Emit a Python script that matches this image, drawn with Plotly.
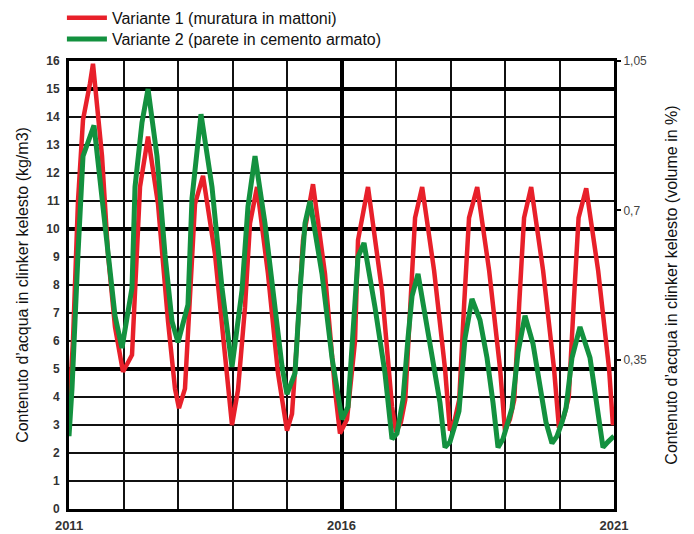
import plotly.graph_objects as go

# ---- data (decimal years, kg/m3) ----
red_x = [2011.000, 2011.073, 2011.165, 2011.257, 2011.385, 2011.440, 2011.606, 2011.716, 2011.844, 2011.991,
         2012.156, 2012.211, 2012.303, 2012.450, 2012.633, 2012.817, 2012.945, 2013.018,
         2013.128, 2013.220, 2013.312, 2013.459, 2013.679, 2013.862, 2013.991,
         2014.101, 2014.229, 2014.321, 2014.450, 2014.651, 2014.835, 2015.000,
         2015.092, 2015.183, 2015.294, 2015.477, 2015.697, 2015.881, 2015.972,
         2016.101, 2016.248, 2016.303, 2016.486, 2016.743, 2016.927, 2017.000,
         2017.090, 2017.170, 2017.260, 2017.350, 2017.480, 2017.700, 2017.900, 2017.990,
         2018.080, 2018.160, 2018.250, 2018.340, 2018.490, 2018.710, 2018.910, 2019.000,
         2019.090, 2019.170, 2019.260, 2019.350, 2019.480, 2019.700, 2019.900, 2019.990,
         2020.080, 2020.170, 2020.260, 2020.350, 2020.490, 2020.710, 2020.910, 2020.980, 2021.000]
red_y = [3.5, 6.0, 11.0, 13.9, 15.2, 15.9, 12.6, 9.1, 6.5, 4.9,
         5.5, 7.9, 11.5, 13.3, 10.9, 6.7, 4.3, 3.6,
         4.3, 7.6, 10.9, 11.9, 9.1, 5.5, 3.0,
         4.25, 7.2, 10.2, 11.5, 8.4, 4.85, 2.8,
         3.4, 6.0, 9.6, 11.6, 8.4, 4.25, 2.7,
         3.2, 6.0, 9.6, 11.5, 7.8, 3.65, 2.75,
         3.1, 3.9, 7.3, 10.4, 11.5, 8.5, 5.0, 2.8,
         3.2, 3.9, 7.3, 10.4, 11.5, 8.5, 5.0, 2.8,
         3.2, 3.9, 7.3, 10.4, 11.5, 8.5, 5.0, 2.9,
         3.3, 4.0, 7.3, 10.4, 11.45, 8.5, 5.0, 3.0, 3.2]

green_x = [2011.000, 2011.055, 2011.165, 2011.257, 2011.459, 2011.661, 2011.844, 2011.972,
           2012.156, 2012.211, 2012.339, 2012.450, 2012.615, 2012.761, 2012.890, 2013.000,
           2013.183, 2013.257, 2013.422, 2013.624, 2013.807, 2013.991,
           2014.046, 2014.174, 2014.284, 2014.413, 2014.596, 2014.780, 2014.908, 2015.000,
           2015.147, 2015.239, 2015.330, 2015.422, 2015.642, 2015.826, 2016.009,
           2016.119, 2016.211, 2016.303, 2016.413, 2016.615, 2016.798, 2016.927,
           2017.018, 2017.128, 2017.220, 2017.294, 2017.404, 2017.679, 2017.807, 2017.899,
           2017.991, 2018.083, 2018.156, 2018.266, 2018.394, 2018.541, 2018.670, 2018.780, 2018.872,
           2018.963, 2019.055, 2019.128, 2019.239, 2019.367, 2019.514, 2019.642, 2019.752, 2019.862,
           2019.954, 2020.046, 2020.119, 2020.229, 2020.376, 2020.560, 2020.688, 2020.798, 2020.890, 2021.000]
green_y = [2.6, 4.3, 9.1, 12.6, 13.7, 10.25, 6.9, 5.75,
           7.9, 11.5, 13.8, 15.0, 12.6, 9.1, 6.7, 5.95,
           7.3, 11.1, 14.1, 11.5, 7.9, 5.07,
           6.0, 7.8, 10.8, 12.6, 10.2, 7.2, 5.1, 4.1,
           4.85, 7.8, 10.2, 11.0, 8.4, 5.4, 3.2,
           3.65, 6.6, 9.0, 9.5, 7.2, 4.85, 2.5,
           2.7, 3.9, 6.1, 7.6, 8.4, 5.4, 3.8, 2.2,
           2.4, 3.0, 3.5, 6.1, 7.5, 6.75, 5.4, 3.8, 2.2,
           2.5, 3.1, 3.6, 5.6, 6.9, 5.9, 4.4, 3.1, 2.35,
           2.6, 3.1, 3.6, 5.4, 6.5, 5.4, 3.8, 2.2, 2.4, 2.6]

year_ticks = list(range(2011, 2022))
year_labels = ["2011", "", "", "", "", "2016", "", "", "", "", "2021"]
left_ticks = list(range(0, 17))
right_ticks = [0.35, 0.7, 1.05]
right_labels = ["0,35", "0,7", "1,05"]
thick_y = [5, 10, 15]
thick_x = [2016]

RED = "#e8202a"
GREEN = "#13913f"
FONT = "Liberation Sans, Arial, sans-serif"

fig = go.Figure()
fig.add_trace(go.Scatter(x=red_x, y=red_y, mode="lines", name="Variante 1 (muratura in mattoni)",
                         line=dict(color=RED, width=4.5), legend="legend"))
fig.add_trace(go.Scatter(x=green_x, y=green_y, mode="lines", name="Variante 2 (parete in cemento armato)",
                         line=dict(color=GREEN, width=5), legend="legend2"))
# helper traces so the overlay axes exist
fig.add_trace(go.Scatter(x=[None], y=[None], xaxis="x2", yaxis="y3", showlegend=False, hoverinfo="skip"))
fig.add_trace(go.Scatter(x=[None], y=[None], yaxis="y2", showlegend=False, hoverinfo="skip"))

legend_style = dict(xanchor="left", yanchor="top", font=dict(size=16, color="#111"),
                    bgcolor="rgba(0,0,0,0)", itemwidth=40)
tick_font = dict(size=12, color="#333", weight="bold")

fig.update_layout(
    width=694, height=534,
    margin=dict(l=69, r=80, t=61, b=25, autoexpand=False),
    paper_bgcolor="white", plot_bgcolor="white",
    font=dict(family=FONT, color="#222"),
    showlegend=True,
    legend=dict(x=-0.013, y=1.134, **legend_style),
    legend2=dict(x=-0.013, y=1.087, **legend_style),
    xaxis=dict(range=[2011, 2021], tickmode="array", tickvals=year_ticks, ticktext=year_labels,
               showgrid=True, gridcolor="#111", gridwidth=1.6, zeroline=False,
               showline=True, linecolor="#000", linewidth=3, mirror=True, ticks="",
               ticklabelstandoff=2, tickfont=dict(size=13, color="#333", weight="bold")),
    yaxis=dict(range=[0, 16], tickmode="array", tickvals=left_ticks,
               showgrid=True, gridcolor="#111", gridwidth=1.6, zeroline=False,
               showline=True, linecolor="#000", linewidth=3, mirror=True, ticks="",
               ticklabelstandoff=4, tickfont=tick_font,
               title=dict(text="Contenuto d’acqua in clinker kelesto (kg/m3)",
                          font=dict(size=16, color="#111"), standoff=14)),
    xaxis2=dict(overlaying="x", range=[2011, 2021], tickmode="array", tickvals=thick_x,
                showgrid=True, gridcolor="#000", gridwidth=3.5, showticklabels=False,
                showline=False, zeroline=False, ticks=""),
    yaxis3=dict(overlaying="y", range=[0, 16], tickmode="array", tickvals=thick_y,
                showgrid=True, gridcolor="#000", gridwidth=3.5, showticklabels=False,
                showline=False, zeroline=False, ticks=""),
    yaxis2=dict(overlaying="y", side="right", range=[0, 1.05], tickmode="array",
                tickvals=right_ticks, ticktext=right_labels, showgrid=False, zeroline=False,
                showline=False, ticks="outside", ticklen=6, tickwidth=1.5, tickcolor="#000",
                tickfont=dict(size=12, color="#444"),
                title=dict(text="Contenuto d’acqua in clinker kelesto (volume in %)",
                           font=dict(size=16, color="#111"), standoff=19)),
)

fig.write_html("out.html", config={"displayModeBar": False},
               post_script="document.body.style.margin='0px';")
